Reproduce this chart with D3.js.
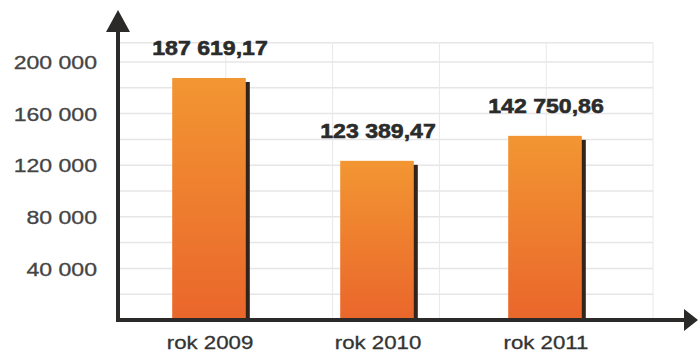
<!DOCTYPE html>
<html>
<head>
<meta charset="utf-8">
<script src="https://cdn.jsdelivr.net/npm/d3@7"></script>
<style>
  body { margin: 0; background: #fff; }
  svg { display: block; font-family: "Liberation Sans", Arial, sans-serif; }
</style>
</head>
<body>
<svg id="chart" width="699" height="353"></svg>
<script>
// Data
const years = ["rok 2009", "rok 2010", "rok 2011"];
const amounts = [187619.17, 123389.47, 142750.86];
const valueLabels = ["187 619,17", "123 389,47", "142 750,86"];
const yTicks = [40000, 80000, 120000, 160000, 200000];
const gridRows = [20000, 40000, 60000, 80000, 100000, 120000, 140000, 160000, 180000, 200000, 215000];

const data = years.map((y, i) => ({ year: y, value: amounts[i], label: valueLabels[i] }));

// Stretch text a bit wider, like the original
function stretch(sel, k) {
  sel.each(function () {
    const len = this.getComputedTextLength();
    d3.select(this).attr("textLength", len * k).attr("lengthAdjust", "spacingAndGlyphs");
  });
}

const svg = d3.select("#chart");
const axisX = 118;
const axisY = 320;
const dark = "#2c2a28";

// Scales
const xScale = d3.scaleBand()
  .domain(years)
  .range([126, 630])
  .paddingInner(0.55)
  .paddingOuter(0.275);

const yScale = d3.scaleLinear()
  .domain([0, 200000])
  .range([axisY, 62]);

const gridX = d3.scaleLinear().domain([0, 5]).range([119, 653]);

// Grid
const grid = svg.append("g");
grid.selectAll(".row")
  .data(gridRows)
  .join("line")
  .attr("x1", axisX)
  .attr("x2", gridX(5))
  .attr("y1", (d) => yScale(d))
  .attr("y2", (d) => yScale(d))
  .attr("stroke", "#e6e6e6")
  .attr("stroke-width", 1.5);

grid.selectAll(".col")
  .data(d3.range(1, 6))
  .join("line")
  .attr("x1", (d) => gridX(d))
  .attr("x2", (d) => gridX(d))
  .attr("y1", yScale(215000))
  .attr("y2", axisY)
  .attr("stroke", "#e8e8e8")
  .attr("stroke-width", 1);

// Gradient
const defs = svg.append("defs");
const gradient = defs.append("linearGradient")
  .attr("id", "bar-gradient")
  .attr("x1", "0%").attr("y1", "0%")
  .attr("x2", "0%").attr("y2", "100%");
gradient.append("stop").attr("offset", "0%").attr("stop-color", "#f29632");
gradient.append("stop").attr("offset", "100%").attr("stop-color", "#ea662b");

// Bars
const bars = svg.append("g");
bars.selectAll(".shadow")
  .data(data)
  .join("rect")
  .attr("x", (d) => xScale(d.year) + xScale.bandwidth() - 3)
  .attr("y", (d) => yScale(d.value) + 4)
  .attr("width", 5)
  .attr("height", (d) => axisY - yScale(d.value) - 4)
  .attr("fill", "#33241b");

bars.selectAll(".bar")
  .data(data)
  .join("rect")
  .attr("x", (d) => xScale(d.year))
  .attr("y", (d) => yScale(d.value))
  .attr("width", xScale.bandwidth() - 2)
  .attr("height", (d) => axisY - yScale(d.value))
  .attr("fill", "url(#bar-gradient)");

// Value labels
svg.append("g")
  .selectAll("text")
  .data(data)
  .join("text")
  .attr("x", (d) => xScale(d.year) + xScale.bandwidth() / 2)
  .attr("y", (d) => yScale(d.value) - 23)
  .attr("text-anchor", "middle")
  .attr("font-size", 21)
  .attr("font-weight", "bold")
  .attr("fill", "#2b2b2b")
  .attr("stroke", "#2b2b2b")
  .attr("stroke-width", 0.6)
  .text((d) => d.label)
  .call(stretch, 1.1);

// Y tick labels
svg.append("g")
  .selectAll("text")
  .data(yTicks)
  .join("text")
  .attr("x", 97)
  .attr("y", (d) => yScale(d))
  .attr("dy", "0.4em")
  .attr("text-anchor", "end")
  .attr("font-size", 18)
  .attr("fill", "#444")
  .attr("stroke", "#444")
  .attr("stroke-width", 0.3)
  .text((d) => d3.format(",")(d).replace(/,/g, " "))
  .call(stretch, 1.28);

// Category labels
svg.append("g")
  .selectAll("text")
  .data(years)
  .join("text")
  .attr("x", (d) => xScale(d) + xScale.bandwidth() / 2)
  .attr("y", 349)
  .attr("text-anchor", "middle")
  .attr("font-size", 19)
  .attr("fill", "#333")
  .attr("stroke", "#333")
  .attr("stroke-width", 0.3)
  .text((d) => d)
  .call(stretch, 1.17);

// Axes with arrows
svg.append("line")
  .attr("x1", axisX).attr("x2", axisX)
  .attr("y1", axisY + 2).attr("y2", 28)
  .attr("stroke", dark).attr("stroke-width", 4);
svg.append("line")
  .attr("x1", axisX - 2).attr("x2", 686)
  .attr("y1", axisY).attr("y2", axisY)
  .attr("stroke", dark).attr("stroke-width", 4);
svg.append("path")
  .attr("d", `M${axisX},10 L${axisX + 12},32 L${axisX - 12},32 Z`)
  .attr("fill", dark);
svg.append("path")
  .attr("d", `M698,${axisY} L684,${axisY - 11} L684,${axisY + 11} Z`)
  .attr("fill", dark);
</script>
</body>
</html>
